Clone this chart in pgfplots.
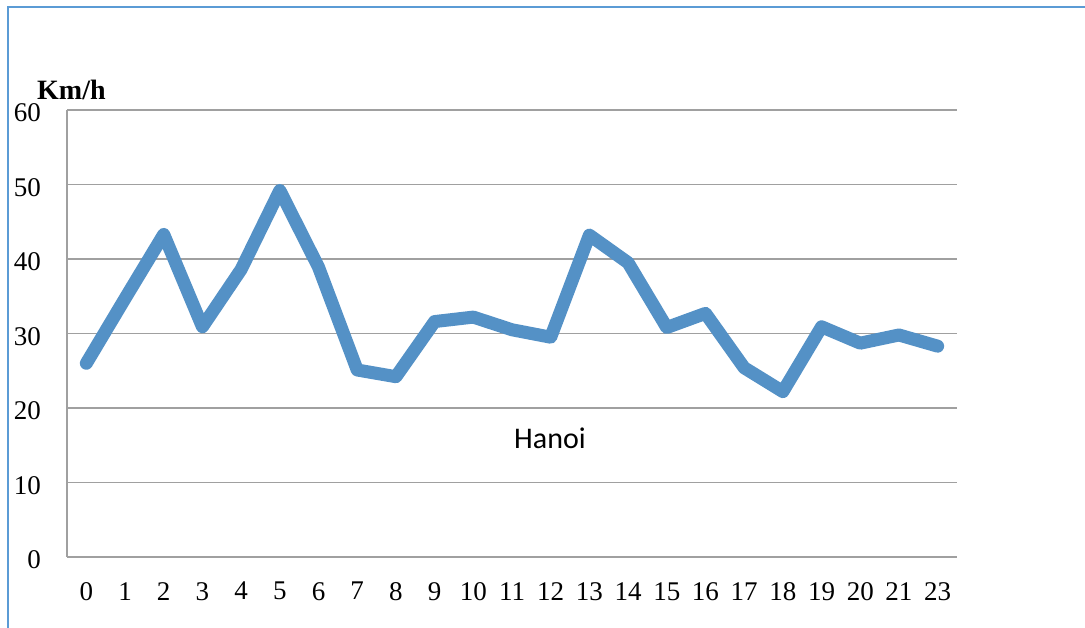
\documentclass[border=0pt]{standalone}
\usepackage{pgfplots}
\pgfplotsset{compat=1.18}
\usepackage{fontspec}
\setmainfont{Liberation Serif}
\newfontfamily\calibri{Carlito}
\definecolor{linec}{RGB}{84,145,198}
\definecolor{gridc}{RGB}{160,160,160}
\definecolor{framec}{RGB}{91,155,213}
\begin{document}
\begin{tikzpicture}[x=1pt,y=1pt]
\useasboundingbox (0,0) rectangle (1085,628);
\draw[framec, line width=1.5pt] (8,0) -- (8,621) -- (1085,621);
\begin{axis}[
  at={(67pt,71pt)}, anchor=south west,
  scale only axis, width=890pt, height=447pt,
  xmin=-0.5, xmax=22.5, ymin=0, ymax=60,
  xtick={0,...,22},
  xticklabels={0,1,2,3,4,5,6,7,8,9,10,11,12,13,14,15,16,17,18,19,20,21,23},
  ytick={0,10,...,60},
  axis x line*=bottom, axis y line*=left,
  axis line style={gridc, line width=1.8pt, -},
  ymajorgrids, grid style={gridc, line width=1.8pt},
  major tick length=0pt,
  /pgf/number format/assume math mode=true,
  tick label style={font=\fontsize{27}{32}\selectfont},
  yticklabel style={anchor=east, inner sep=0pt, xshift=-26pt, yshift=-3pt},
  xticklabel style={anchor=north, inner sep=0pt, yshift=-25pt},
  clip=false,
]
\addplot[linec, line width=13pt, line join=round, line cap=round] coordinates {
(0,26.0) (1,34.7) (2,43.3) (3,30.9) (4,38.6) (5,49.2) (6,38.9) (7,25.1)
(8,24.2) (9,31.6) (10,32.2) (11,30.5) (12,29.5) (13,43.2) (14,39.5)
(15,30.8) (16,32.7) (17,25.4) (18,22.2) (19,30.9) (20,28.7) (21,29.8) (22,28.3)
};
\end{axis}
\node[anchor=base west, inner sep=0pt, font=\bfseries\fontsize{28}{33}\selectfont] at (37,528) {Km/h};
\node[anchor=base, inner sep=0pt, font=\calibri\fontsize{30}{36}\selectfont] at (550,179) {Hanoi};
\end{tikzpicture}
\end{document}
